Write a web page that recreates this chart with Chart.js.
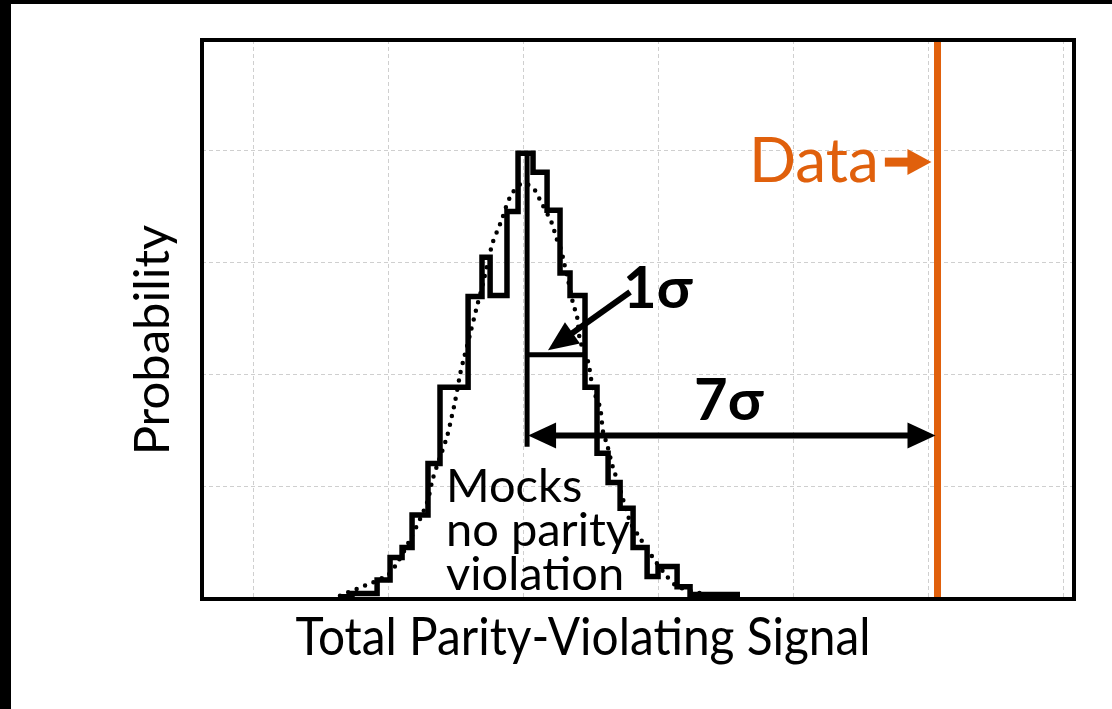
<!DOCTYPE html>
<html><head><meta charset="utf-8">
<script src="https://cdn.jsdelivr.net/npm/chart.js@4.4.0/dist/chart.umd.min.js"></script>
<style>html,body{margin:0;padding:0;background:#fff;overflow:hidden}#wrap{width:1112px;height:709px;position:relative}</style>
</head><body><div id="wrap"><canvas id="c"></canvas></div>
<script>
// ---- data (arbitrary units; x grid spacing = 1, y grid spacing = 1) ----
const binEdges   = [0.644, 0.733, 0.919, 1.015, 1.104, 1.178, 1.296, 1.385, 1.593, 1.696, 1.756, 1.881, 1.963, 2.074, 2.178, 2.274, 2.348, 2.459, 2.548, 2.630, 2.719, 2.815, 2.919, 3.000, 3.141, 3.237, 3.607];
const binHeights = [0.02, 0.05, 0.17, 0.37, 0.46, 0.75, 1.21, 1.89, 2.70, 3.05, 2.71, 3.46, 3.98, 3.81, 3.47, 2.91, 2.71, 1.89, 1.30, 1.04, 0.81, 0.46, 0.20, 0.29, 0.11, 0.04];
const fitX = [0.644, 0.993, 1.067, 1.163, 1.289, 1.333, 1.437, 1.474, 1.496, 1.533, 1.556, 1.607, 1.652, 1.704, 1.770, 1.807, 1.844, 1.874, 1.919, 1.993, 2.074, 2.126, 2.215, 2.244, 2.281, 2.304, 2.333, 2.370, 2.400, 2.422, 2.481, 2.519, 2.570, 2.593, 2.622, 2.667, 2.704, 2.793, 2.852, 2.956, 3.067, 3.148, 3.363, 3.607];
const fitY = [0.03, 0.21, 0.32, 0.53, 0.86, 1.08, 1.45, 1.64, 1.76, 2.00, 2.12, 2.36, 2.58, 2.82, 3.16, 3.28, 3.39, 3.50, 3.62, 3.71, 3.67, 3.56, 3.35, 3.23, 3.12, 3.00, 2.85, 2.64, 2.52, 2.31, 2.12, 1.87, 1.71, 1.49, 1.38, 1.17, 1.04, 0.69, 0.57, 0.38, 0.20, 0.11, 0.04, 0.01];
const dataSignal = 5.07;        // observed value (orange line)
const mockMean = 2.03;           // centre of mock distribution
const meanLineBottom = 1.36;     // lower end of the mean marker
const oneSigmaEdge = 2.459;      // mean + 1 sigma
const oneSigmaLevel = 2.18;      // height of 1σ bracket
const sevenSigmaLevel = 1.46;    // height of 7σ arrow
const xGridTicks = [0, 1, 2, 3, 4, 5, 6];
const yGridTicks = [0, 1, 2, 3, 4, 5];
const xTitle = 'Total Parity-Violating Signal';
const yTitle = 'Probability';
const mocksLabel = ['Mocks', 'no parity', 'violation'];
const dataLabel = 'Data';
const oneSigmaLabel = '1σ';
const sevenSigmaLabel = '7σ';

const ORANGE = '#E0600C';
const FONT = 'Lato, "Open Sans", sans-serif';

const histPoints = binEdges.map((e, i) => ({x: e, y: binHeights[Math.min(i, binHeights.length - 1)]}));
const fitPoints = fitX.map((x, i) => ({x, y: fitY[i]}));

function arrowHead(ctx, x1, y1, x2, y2, len, half) {
  const a = Math.atan2(y2 - y1, x2 - x1);
  ctx.beginPath();
  ctx.moveTo(x2, y2);
  ctx.lineTo(x2 - len * Math.cos(a) + half * Math.sin(a), y2 - len * Math.sin(a) - half * Math.cos(a));
  ctx.lineTo(x2 - len * Math.cos(a) - half * Math.sin(a), y2 - len * Math.sin(a) + half * Math.cos(a));
  ctx.closePath();
  ctx.fill();
}
function arrow(ctx, x1, y1, x2, y2, w, len, half, color, both) {
  const a = Math.atan2(y2 - y1, x2 - x1);
  ctx.save();
  ctx.strokeStyle = color; ctx.fillStyle = color; ctx.lineWidth = w; ctx.lineCap = 'butt';
  const sx = both ? x1 + (len - 2) * Math.cos(a) : x1, sy = both ? y1 + (len - 2) * Math.sin(a) : y1;
  ctx.beginPath();
  ctx.moveTo(sx, sy);
  ctx.lineTo(x2 - (len - 2) * Math.cos(a), y2 - (len - 2) * Math.sin(a));
  ctx.stroke();
  arrowHead(ctx, x1, y1, x2, y2, len, half);
  if (both) arrowHead(ctx, x2, y2, x1, y1, len, half);
  ctx.restore();
}

const bgPlugin = {
  id: 'bg',
  beforeDraw(chart) {
    const ctx = chart.ctx;
    ctx.save();
    ctx.fillStyle = '#fff'; ctx.fillRect(0, 0, chart.width, chart.height);
    ctx.fillStyle = '#000'; ctx.fillRect(0, 0, chart.width, 4); ctx.fillRect(0, 0, 11, chart.height);
    ctx.restore();
  }
};

const annotPlugin = {
  id: 'annot',
  afterDraw(chart) {
    const ctx = chart.ctx, xs = chart.scales.x, ys = chart.scales.y, ca = chart.chartArea;
    const X = v => xs.getPixelForValue(v), Y = v => ys.getPixelForValue(v);
    ctx.save();
    // plot frame
    ctx.strokeStyle = '#000'; ctx.lineWidth = 4;
    ctx.strokeRect(ca.left, ca.top, ca.right - ca.left, ca.bottom - ca.top);
    // mean marker
    ctx.lineWidth = 5; ctx.lineCap = 'butt';
    ctx.beginPath(); ctx.moveTo(X(mockMean), Y(binHeights[12])); ctx.lineTo(X(mockMean), Y(meanLineBottom)); ctx.stroke();
    // 1 sigma bracket
    ctx.beginPath(); ctx.moveTo(X(mockMean), Y(oneSigmaLevel)); ctx.lineTo(X(oneSigmaEdge), Y(oneSigmaLevel)); ctx.stroke();
    // 7 sigma double arrow
    arrow(ctx, X(mockMean) + 1, Y(sevenSigmaLevel), X(dataSignal) - 2, Y(sevenSigmaLevel), 6, 28, 13, '#000', true);
    // 1 sigma pointer
    arrow(ctx, X(2.793), Y(2.74), X(2.185), Y(2.22), 6, 30, 13, '#000', false);
    // Data pointer
    arrow(ctx, X(4.68), Y(3.90), X(5.025), Y(3.90), 9, 24, 13, ORANGE, false);
    // texts
    ctx.fillStyle = ORANGE; ctx.textBaseline = 'alphabetic'; ctx.textAlign = 'left';
    ctx.font = '62px ' + FONT;
    ctx.fillText(dataLabel, 749, 182);
    ctx.fillStyle = '#000';
    ctx.font = 'bold 58px ' + FONT;
    ctx.fillText(oneSigmaLabel, 623, 308);
    ctx.fillText(sevenSigmaLabel, 694, 420);
    ctx.font = '47px ' + FONT;
    mocksLabel.forEach((t, i) => ctx.fillText(t, 446, 502 + i * 44, 186));
    // axis titles
    ctx.font = '53px ' + FONT; ctx.textAlign = 'center';
    ctx.fillText(xTitle, 583, 655, 575);
    ctx.translate(169, 340); ctx.rotate(-Math.PI / 2);
    ctx.font = '49px ' + FONT;
    ctx.fillText(yTitle, 0, 0, 232);
    ctx.restore();
  }
};

new Chart(document.getElementById('c'), {
  type: 'line',
  data: {
    datasets: [
      {data: histPoints, stepped: 'before', borderColor: '#000', borderWidth: 5.5, pointRadius: 0, fill: false, order: 2},
      {data: fitPoints, borderColor: '#000', borderWidth: 4.5, borderDash: [0, 9], borderCapStyle: 'round', pointRadius: 0, tension: 0.3, fill: false, order: 3},
      {data: [{x: dataSignal, y: 0}, {x: dataSignal, y: 5}], borderColor: ORANGE, borderWidth: 7, pointRadius: 0, fill: false, order: 1}
    ]
  },
  options: {
    responsive: true, maintainAspectRatio: false, animation: false,
    layout: {padding: {top: 40, right: 38, left: 0, bottom: 0}},
    plugins: {legend: {display: false}, tooltip: {enabled: false}},
    scales: {
      x: {type: 'linear', min: -0.378, max: 6.081,
          afterBuildTicks: s => { s.ticks = xGridTicks.map(v => ({value: v})); },
          afterFit: s => { s.height = 110; },
          ticks: {display: false},
          grid: {color: '#cfcfcf', lineWidth: 1, drawTicks: false},
          border: {display: false, dash: [4, 3]}},
      y: {type: 'linear', min: 0, max: 4.99,
          afterBuildTicks: s => { s.ticks = yGridTicks.map(v => ({value: v})); },
          afterFit: s => { s.width = 202; },
          ticks: {display: false},
          grid: {color: '#cfcfcf', lineWidth: 1, drawTicks: false},
          border: {display: false, dash: [4, 3]}}
    }
  },
  plugins: [bgPlugin, annotPlugin]
});
</script>
</body></html>
